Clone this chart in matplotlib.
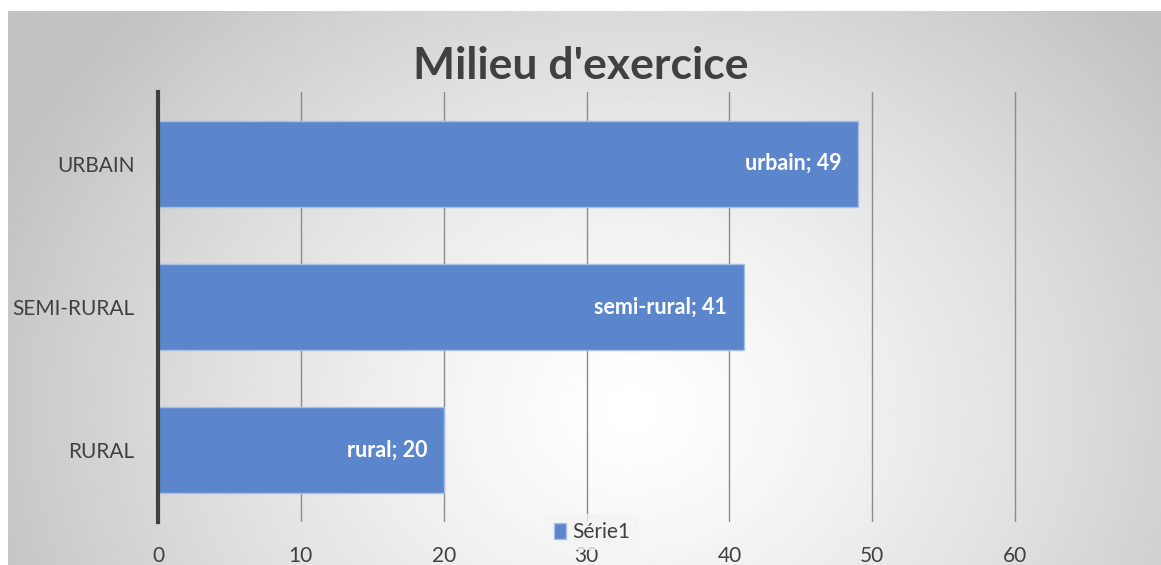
import numpy as np
import matplotlib.pyplot as plt

categories = ["RURAL", "SEMI-RURAL", "URBAIN"]
labels = ["rural", "semi-rural", "urbain"]
values = [20, 41, 49]
xticks = [0, 10, 20, 30, 40, 50, 60]

plt.rcParams['font.family'] = ['Lato', 'DejaVu Sans']

fig = plt.figure(figsize=(11.61, 5.65), dpi=100)
fig.patch.set_facecolor('white')

# radial gradient background of the chart area
bg = fig.add_axes([8 / 1161, 0, 1 - 8 / 1161, 1 - 11 / 565])
yy, xx = np.mgrid[0:1:300j, 0:1:600j]
r = np.sqrt(((xx - 0.54) * 1.6) ** 2 + ((yy - 0.28) * 0.9) ** 2)
shade = 1 - 0.24 * np.clip(r / 0.95, 0, 1) ** 1.3
bg.imshow(shade, cmap='gray', vmin=0, vmax=1, origin='lower',
          extent=[0, 1, 0, 1], aspect='auto', interpolation='bilinear')
bg.set_axis_off()

ax = fig.add_axes([158 / 1161, 1 - 522 / 565, 1000 / 1161, 430 / 565])
ax.patch.set_alpha(0)

ypos = np.arange(len(categories))
ax.barh(ypos, values, height=0.6, color='#5b86cc', edgecolor='#a6bfe6',
        linewidth=1, zorder=3)

for y, v, lab in zip(ypos, values, labels):
    ax.annotate(f"{lab}; {v}", xy=(v, y), xytext=(-12, 0),
                textcoords='offset points', ha='right', va='center',
                color='white', fontsize=15.5, fontweight='bold', zorder=4)

ax.set_xlim(0, 70)
ax.set_ylim(-0.5, 2.5)
ax.set_xticks(xticks)
ax.set_yticks(ypos)
ax.set_yticklabels(categories)
ax.xaxis.grid(True, color='#8c8c8c', linewidth=1, zorder=1)
ax.set_axisbelow(True)

for s in ['top', 'right', 'bottom']:
    ax.spines[s].set_visible(False)
ax.spines['left'].set_color('#404040')
ax.spines['left'].set_linewidth(3)
ax.spines['left'].set_zorder(5)

ax.tick_params(axis='both', length=0, labelsize=15, colors='#404040')
ax.tick_params(axis='x', pad=17)
ax.tick_params(axis='y', pad=17)

fig.text(0.5, 1 - 66 / 565, "Milieu d'exercice", ha='center', va='center',
         fontsize=32, fontweight='bold', color='#404040')

leg = ax.legend([plt.Rectangle((0, 0), 1, 1, fc='#5b86cc', ec='#a6bfe6')],
                ["Série1"], loc='center', bbox_to_anchor=(592 / 1161, 1 - 532 / 565),
                bbox_transform=fig.transFigure, frameon=True, fontsize=15,
                handlelength=0.6, handleheight=0.8, handletextpad=0.3,
                borderpad=0.4)
leg.get_frame().set_facecolor('#f4f4f4')
leg.get_frame().set_edgecolor('none')
for t in leg.get_texts():
    t.set_color('#404040')

fig.savefig("out.png", dpi=100)
